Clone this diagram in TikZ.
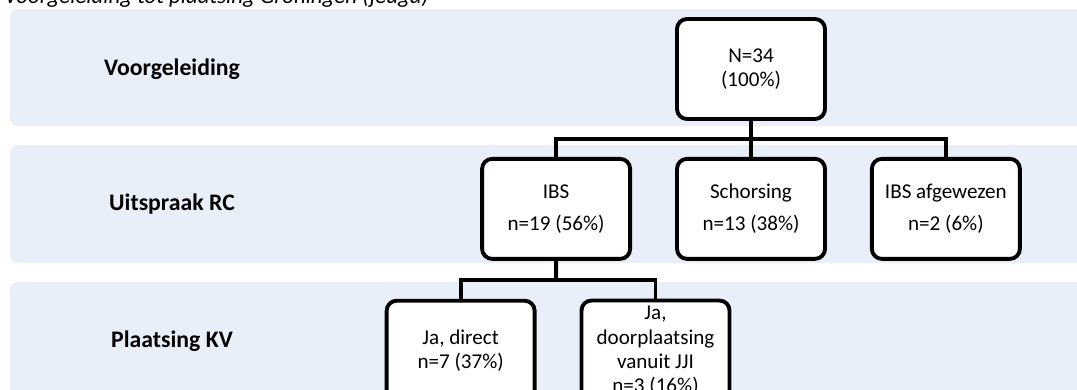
\documentclass[tikz,border=0pt]{standalone}
\usepackage{fontspec}
\setmainfont{Carlito}
\usetikzlibrary{positioning,calc}
\definecolor{bandblue}{RGB}{233,239,249}
\tikzset{
    box/.style={draw, line width=2.2pt, rounded corners=0.2cm, fill=white, minimum width=2.96cm, minimum height=2cm, align=center, font=\fontsize{12}{13.7}\selectfont},
    link/.style={line width=2.2pt},
    band/.style={fill=bandblue, rounded corners=0.16cm},
    stage/.style={font=\fontsize{13.5}{16}\selectfont\bfseries}
}

\begin{document}
\begin{tikzpicture}
\useasboundingbox (0,0) rectangle (21.54,-7.8);
\clip (0,0) rectangle (21.54,-7.8);
% bands
\fill[band] (0.2,-0.18) rectangle (22,-2.52);
\fill[band] (0.2,-2.9) rectangle (22,-5.26);
\fill[band] (0.2,-5.64) rectangle (22,-8);
\node[anchor=base west, inner sep=0pt, font=\fontsize{13}{15}\selectfont\itshape] (title) at (0.08,-0.07) {Voorgeleiding tot plaatsing Groningen (jeugd)};

\node[stage] (voorg) at (3.44,-1.38) {Voorgeleiding};
\node[stage] (uitspr) at (3.44,-4.08) {Uitspraak RC};
\node[stage] (plaats) at (3.44,-6.82) {Plaatsing KV};

\node[box] (total) at (15.02,-1.38) {N=34\\(100\%)};
\node[box, below=0.72cm of total] (schors) {Schorsing\\[0.16cm]n=13 (38\%)};
\node[box, left=0.86cm of schors] (ibs) {IBS\\[0.16cm]n=19 (56\%)};
\node[box, right=0.86cm of schors] (afgew) {IBS afgewezen\\[0.16cm]n=2 (6\%)};
\node[box, below=0.76cm of ibs, xshift=-1.91cm] (direct) {Ja, direct\\n=7 (37\%)};
\node[box, right=0.86cm of direct] (doorpl) {Ja,\\doorplaatsing\\vanuit JJI\\n=3 (16\%)};

\coordinate (fork1) at ($(total.south)!0.5!(schors.north)$);
\coordinate (fork2) at ($(ibs.south)!0.5!(ibs.south |- direct.north)$);
\draw[link] (total) -- (schors);
\draw[link] (ibs.north) |- (fork1) -| (afgew.north);
\draw[link] (ibs.south) -- (fork2);
\draw[link] (direct.north) |- (fork2) -| (doorpl.north);
\end{tikzpicture}
\end{document}
